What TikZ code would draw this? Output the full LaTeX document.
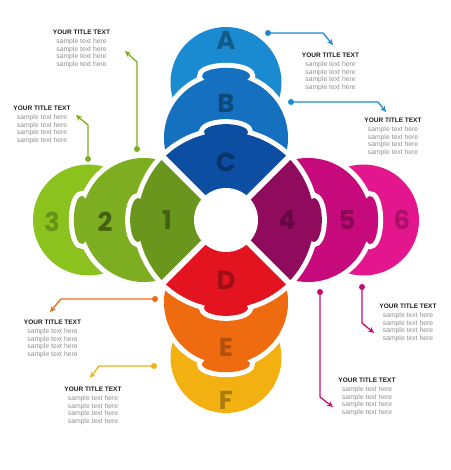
\documentclass[tikz,border=0pt]{standalone}
\usepackage{fontspec}
\setmainfont{Liberation Sans}
\newfontfamily\petalfont{Poppins}
\usepackage{tikz}
\usetikzlibrary{arrows.meta}
\definecolor{blueA}{HTML}{1B8BD1}
\definecolor{blueB}{HTML}{1570BF}
\definecolor{blueC}{HTML}{0B4EA2}
\definecolor{greenOne}{HTML}{6A961E}
\definecolor{greenTwo}{HTML}{7DAE22}
\definecolor{greenThree}{HTML}{8CC21E}
\definecolor{plumFour}{HTML}{900B5E}
\definecolor{plumFive}{HTML}{C60A7C}
\definecolor{plumSix}{HTML}{E4168D}
\definecolor{redD}{HTML}{E3141F}
\definecolor{orangeE}{HTML}{EE6B0F}
\definecolor{yellowF}{HTML}{F3B111}
\definecolor{titlegray}{HTML}{1E1E1E}
\definecolor{samplegray}{HTML}{8E8E8E}
% shapes of one arm, drawn upwards from the centre
\newcommand{\outershape}{(0,-137.5) circle (55.5)}
\newcommand{\innershape}{(21.1,-140.35) arc[start angle=-70.1, end angle=250.1, radius=62]
  arc[start angle=151.6, end angle=388.4, x radius=24, y radius=8] -- cycle}
\newcommand{\sectorshape}{(225:29) -- (225:88) arc[start angle=225, end angle=256.2, radius=88]
  arc[start angle=162.6, end angle=377.4, x radius=22, y radius=8]
  arc[start angle=283.8, end angle=315, radius=88] -- (315:29) arc[start angle=315, end angle=225, radius=29] -- cycle}
\newcommand{\notetext}{{\color{titlegray}\fontsize{6.5}{7.5}\selectfont\bfseries YOUR TITLE TEXT}\\[1.3pt]
  sample text here\\ sample text here\\ sample text here\\ sample text here}

\begin{document}
\begin{tikzpicture}[x=1pt, y=-1pt, every node/.style={inner sep=0pt},
    rim/.style={draw=white, line width=10pt},
    gapline/.style={draw=white, line width=6pt},
    petal/.style={font=\petalfont\bfseries\fontsize{26}{26}\selectfont},
    note/.style={anchor=north, align=center, text=samplegray, font=\fontsize{6.8}{7.7}\selectfont},
    callout/.style={line width=1.3pt, -{Stealth[length=6pt, width=5.5pt]}}]
  \useasboundingbox (0,0) rectangle (450,470);
  \coordinate (centre) at (226,220);

  % Outer discs:
  \begin{scope}[shift={(centre)}]
    \fill[blueA] \outershape; % A
    \fill[greenThree, rotate=90] \outershape; % 3
    \fill[yellowF, rotate=180] \outershape; % F
    \fill[plumSix, rotate=-90] \outershape; % 6
  \end{scope}

  % Inner discs, white rim first:
  \begin{scope}[shift={(centre)}]
    \path[rim] \innershape;  \fill[blueB] \innershape; % B
    \path[rim, rotate=90] \innershape;  \fill[greenTwo, rotate=90] \innershape; % 2
    \path[rim, rotate=180] \innershape;  \fill[orangeE, rotate=180] \innershape; % E
    \path[rim, rotate=-90] \innershape;  \fill[plumFive, rotate=-90] \innershape; % 5
  \end{scope}

  % Centre petals:
  \begin{scope}[shift={(centre)}]
    \path[rim] \sectorshape;
    \path[rim, rotate=90] \sectorshape;
    \path[rim, rotate=180] \sectorshape;
    \path[rim, rotate=-90] \sectorshape;
    \fill[blueC] \sectorshape; % C
    \fill[greenOne, rotate=90] \sectorshape; % 1
    \fill[redD, rotate=180] \sectorshape; % D
    \fill[plumFour, rotate=-90] \sectorshape; % 4
    % the cross and the hub
    \draw[gapline] (45:0) -- (45:93) (135:0) -- (135:93) (225:0) -- (225:93) (315:0) -- (315:93);
    \fill[white] (0,0) circle (32);
  \end{scope}

  % Letters:
  \node[petal, text=blueA!65!black] (lblA) at (226,40) {A};
  \node[petal, text=blueB!65!black] (lblB) at (226,103) {B};
  \node[petal, text=blueC!65!black] (lblC) at (226,162) {C};
  \node[petal, text=redD!70!black] (lblD) at (226,280) {D};
  \node[petal, text=orangeE!75!black] (lblE) at (226,347) {E};
  \node[petal, text=yellowF!70!black] (lblF) at (226,400) {F};
  \node[petal, text=greenOne!65!black] (lbl1) at (167,220) {1};
  \node[petal, text=greenTwo!55!black] (lbl2) at (105,222) {2};
  \node[petal, text=greenThree!75!black] (lbl3) at (52,222) {3};
  \node[petal, text=plumFour!70!black] (lbl4) at (287,220) {4};
  \node[petal, text=plumFive!70!black] (lbl5) at (347,220) {5};
  \node[petal, text=plumSix!75!black] (lbl6) at (402,220) {6};

  % Notes:
  \node[note] (noteA) at (330.5,52.6) {\notetext};
  \node[note] (noteB) at (393,117.6) {\notetext};
  \node[note] (note6) at (408,303.6) {\notetext};
  \node[note] (note5) at (367,377.6) {\notetext};
  \node[note] (noteE) at (52.5,319.6) {\notetext};
  \node[note] (noteF) at (93,386.6) {\notetext};
  \node[note] (note2) at (81.5,29.6) {\notetext};
  \node[note] (note3) at (42,105.6) {\notetext};

  % Callouts:
  \coordinate (dotA) at (268,33);  \coordinate (tipA) at (333,45);
  \coordinate (dotB) at (291,102); \coordinate (tipB) at (386,112);
  \coordinate (dot6) at (362,287); \coordinate (tip6) at (374,333);
  \coordinate (dot5) at (320,292); \coordinate (tip5) at (333,407);
  \coordinate (dotE) at (155,299); \coordinate (tipE) at (50,312);
  \coordinate (dotF) at (154,366); \coordinate (tipF) at (90,378);
  \coordinate (dot2) at (137,149); \coordinate (tip2) at (125,51);
  \coordinate (dot3) at (88,159);  \coordinate (tip3) at (76,115);
  \fill[blueA] (dotA) circle (3) (dotB) circle (3);
  \fill[plumFive] (dot6) circle (3) (dot5) circle (3);
  \fill[orangeE] (dotE) circle (3);
  \fill[yellowF] (dotF) circle (3);
  \fill[greenTwo] (dot2) circle (3) (dot3) circle (3);
  \draw[callout, blueA] (dotA) -- ++(55,0) -- (tipA);
  \draw[callout, blueA] (dotB) -- ++(87,0) -- (tipB);
  \draw[callout, plumFive] (dot6) -- ++(0,36) -- (tip6);
  \draw[callout, plumFive] (dot5) -- ++(0,105) -- (tip5);
  \draw[callout, orangeE] (dotE) -- ++(-94,0) -- (tipE);
  \draw[callout, yellowF] (dotF) -- ++(-55,0) -- (tipF);
  \draw[callout, greenTwo] (dot2) -- ++(0,-87) -- (tip2);
  \draw[callout, greenTwo] (dot3) -- ++(0,-34) -- (tip3);
\end{tikzpicture}
\end{document}
